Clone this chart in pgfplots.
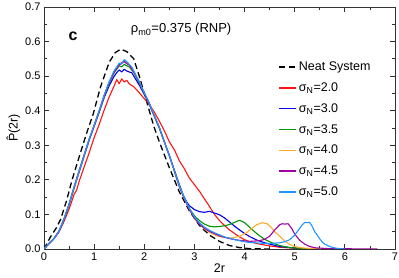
\documentclass[border=0pt]{standalone}
\usepackage{fontspec}
\setmainfont{Liberation Sans}
\usepackage{pgfplots}
\pgfplotsset{compat=1.18}
\definecolor{cred}{RGB}{255,20,20}
\definecolor{cblue}{RGB}{0,0,235}
\definecolor{cgreen}{RGB}{0,150,0}
\definecolor{corange}{RGB}{255,170,40}
\definecolor{cpurple}{RGB}{160,0,160}
\definecolor{clblue}{RGB}{30,150,255}
\definecolor{axgray}{RGB}{50,50,50}
\begin{document}
\begin{tikzpicture}
\begin{axis}[
  scale only axis, width=351pt, height=242pt,
  xmin=0, xmax=7, ymin=0, ymax=0.7,
  xtick={0,1,2,3,4,5,6,7}, ytick={0,0.1,0.2,0.3,0.4,0.5,0.6,0.7},
  minor x tick num=1, minor y tick num=1,
  tick pos=both, tick align=inside,
  major tick length=5pt, minor tick length=3pt,
  axis line style={axgray, line width=0.9pt},
  every tick/.style={axgray, line width=0.8pt},
  /pgf/number format/assume math mode=true,
  yticklabel style={/pgf/number format/fixed, /pgf/number format/fixed zerofill, /pgf/number format/precision=1, font=\fontsize{11}{12}\selectfont},
  xticklabel style={font=\fontsize{11}{12}\selectfont},
  xlabel={2r}, ylabel={\^{P}(2r)},
  xlabel style={font=\fontsize{12.5}{13}\selectfont, yshift=3pt},
  ylabel style={font=\fontsize{12.5}{13}\selectfont, yshift=-2pt},
  legend cell align=left,
  legend style={draw=none, fill=none, at={(axis description cs:0.668,0.782)}, anchor=north west,
    font=\fontsize{12.5}{14}\selectfont, row sep=6.6pt, inner sep=0pt},
  legend image code/.code={\draw[#1, line width=1.3pt] (0pt,0pt) -- (17pt,0pt);},
  every axis plot/.append style={line width=1.1pt, line join=round},
]
\addplot[black, dash pattern=on 6pt off 3.5pt, line width=1.3pt] coordinates {
(0,0) (0.13,0.035) (0.25,0.062) (0.33,0.085) (0.45,0.14) (0.56,0.2) (0.73,0.28) (0.85,0.335) (0.98,0.39) (1.13,0.47) (1.3,0.54) (1.42,0.568) (1.53,0.578) (1.65,0.571) (1.79,0.55) (1.9,0.5) (1.99,0.455) (2.1,0.4) (2.19,0.355) (2.3,0.31) (2.5,0.235) (2.7,0.165) (2.9,0.11) (3.1,0.068) (3.3,0.04) (3.5,0.022) (3.7,0.01) (3.9,0.004) (4.1,0.001) (4.5,0)
};
\addlegendentry{Neat System}
\addplot[cred] coordinates {
(0,0) (0.1,0.015) (0.2,0.03) (0.3,0.05) (0.4,0.08) (0.5,0.115) (0.6,0.158) (0.65,0.17) (0.7,0.195) (0.8,0.237) (0.9,0.278) (1.0,0.322) (1.1,0.36) (1.2,0.402) (1.3,0.44) (1.4,0.472) (1.45,0.49) (1.5,0.478) (1.55,0.492) (1.6,0.483) (1.65,0.488) (1.7,0.478) (1.8,0.468) (1.9,0.452) (2.0,0.435) (2.1,0.418) (2.2,0.396) (2.3,0.37) (2.4,0.342) (2.5,0.31) (2.6,0.287) (2.7,0.255) (2.8,0.232) (2.9,0.205) (3.0,0.186) (3.1,0.167) (3.2,0.145) (3.3,0.123) (3.4,0.1) (3.5,0.082) (3.6,0.068) (3.7,0.055) (3.8,0.045) (3.9,0.035) (4.0,0.027) (4.1,0.021) (4.3,0.014) (4.5,0.009) (4.7,0.005) (5.0,0.002) (5.3,0)
};
\addlegendentry{σ\textsubscript{N}=2.0}
\addplot[cblue] coordinates {
(0,0) (0.1,0.016) (0.2,0.03) (0.3,0.05) (0.4,0.085) (0.5,0.127) (0.6,0.176) (0.7,0.222) (0.8,0.268) (0.9,0.314) (1.0,0.355) (1.1,0.395) (1.2,0.438) (1.3,0.472) (1.4,0.5) (1.45,0.51) (1.5,0.518) (1.55,0.512) (1.6,0.52) (1.65,0.515) (1.7,0.512) (1.75,0.51) (1.8,0.498) (1.9,0.474) (2.0,0.447) (2.1,0.418) (2.2,0.384) (2.3,0.35) (2.4,0.31) (2.5,0.27) (2.6,0.228) (2.7,0.186) (2.77,0.158) (2.85,0.135) (2.9,0.125) (3.0,0.114) (3.1,0.108) (3.2,0.106) (3.3,0.109) (3.4,0.104) (3.5,0.099) (3.6,0.09) (3.7,0.078) (3.8,0.066) (3.9,0.055) (4.0,0.045) (4.1,0.036) (4.24,0.026) (4.4,0.018) (4.56,0.012) (4.7,0.007) (5.0,0.003) (5.3,0)
};
\addlegendentry{σ\textsubscript{N}=3.0}
\addplot[cgreen] coordinates {
(0,0) (0.1,0.016) (0.2,0.031) (0.3,0.052) (0.4,0.086) (0.5,0.128) (0.6,0.177) (0.7,0.224) (0.8,0.27) (0.9,0.316) (1.0,0.357) (1.1,0.398) (1.2,0.442) (1.3,0.48) (1.4,0.51) (1.5,0.53) (1.55,0.527) (1.6,0.534) (1.65,0.53) (1.7,0.527) (1.8,0.508) (1.9,0.48) (2.0,0.45) (2.1,0.42) (2.2,0.385) (2.3,0.35) (2.4,0.31) (2.5,0.27) (2.6,0.226) (2.7,0.183) (2.8,0.146) (2.9,0.117) (3.0,0.096) (3.1,0.082) (3.2,0.072) (3.3,0.066) (3.4,0.064) (3.5,0.065) (3.6,0.067) (3.7,0.071) (3.8,0.077) (3.9,0.083) (3.95,0.08) (4.0,0.076) (4.1,0.063) (4.2,0.05) (4.3,0.038) (4.4,0.028) (4.56,0.017) (4.7,0.01) (4.9,0.004) (5.2,0.001) (5.5,0)
};
\addlegendentry{σ\textsubscript{N}=3.5}
\addplot[corange] coordinates {
(0,0) (0.1,0.016) (0.2,0.03) (0.3,0.051) (0.4,0.087) (0.5,0.129) (0.6,0.178) (0.7,0.225) (0.8,0.271) (0.9,0.317) (1.0,0.358) (1.1,0.4) (1.2,0.444) (1.3,0.483) (1.4,0.514) (1.5,0.534) (1.55,0.54) (1.6,0.545) (1.65,0.538) (1.7,0.533) (1.8,0.51) (1.9,0.483) (2.0,0.452) (2.1,0.422) (2.2,0.386) (2.3,0.352) (2.4,0.31) (2.5,0.27) (2.6,0.225) (2.7,0.18) (2.8,0.145) (2.9,0.115) (3.0,0.09) (3.1,0.072) (3.2,0.058) (3.3,0.048) (3.44,0.038) (3.6,0.033) (3.77,0.032) (3.9,0.037) (4.04,0.047) (4.15,0.06) (4.24,0.07) (4.35,0.076) (4.45,0.073) (4.53,0.063) (4.6,0.05) (4.7,0.037) (4.8,0.023) (4.9,0.013) (5.0,0.007) (5.16,0.003) (5.4,0.001) (5.6,0)
};
\addlegendentry{σ\textsubscript{N}=4.0}
\addplot[cpurple] coordinates {
(0,0) (0.1,0.016) (0.2,0.03) (0.3,0.052) (0.4,0.087) (0.5,0.13) (0.6,0.179) (0.7,0.226) (0.8,0.272) (0.9,0.317) (1.0,0.357) (1.1,0.399) (1.2,0.444) (1.3,0.482) (1.4,0.512) (1.5,0.532) (1.55,0.538) (1.6,0.542) (1.65,0.536) (1.7,0.532) (1.8,0.51) (1.9,0.482) (2.0,0.451) (2.1,0.421) (2.2,0.385) (2.3,0.351) (2.4,0.31) (2.5,0.27) (2.6,0.225) (2.7,0.18) (2.8,0.145) (2.9,0.114) (3.0,0.089) (3.1,0.072) (3.2,0.06) (3.3,0.051) (3.5,0.038) (3.7,0.03) (3.9,0.025) (4.1,0.022) (4.3,0.024) (4.4,0.028) (4.5,0.037) (4.6,0.055) (4.7,0.07) (4.75,0.073) (4.8,0.072) (4.87,0.073) (4.95,0.057) (5.0,0.043) (5.1,0.025) (5.2,0.014) (5.3,0.007) (5.43,0.003) (5.7,0.001) (6.2,0.0005) (6.65,0)
};
\addlegendentry{σ\textsubscript{N}=4.5}
\addplot[clblue] coordinates {
(0,0) (0.05,0.008) (0.1,0.016) (0.15,0.022) (0.2,0.03) (0.3,0.052) (0.4,0.088) (0.5,0.13) (0.6,0.18) (0.7,0.226) (0.8,0.272) (0.9,0.318) (1.0,0.358) (1.1,0.4) (1.2,0.445) (1.3,0.484) (1.35,0.5) (1.4,0.516) (1.45,0.526) (1.5,0.538) (1.55,0.535) (1.6,0.548) (1.65,0.542) (1.7,0.534) (1.75,0.527) (1.8,0.512) (1.9,0.484) (2.0,0.452) (2.1,0.422) (2.2,0.386) (2.3,0.352) (2.4,0.31) (2.5,0.27) (2.6,0.226) (2.7,0.182) (2.8,0.147) (2.9,0.117) (3.0,0.093) (3.1,0.076) (3.2,0.063) (3.3,0.054) (3.4,0.047) (3.5,0.041) (3.6,0.035) (3.7,0.031) (3.8,0.027) (3.9,0.024) (4.0,0.021) (4.1,0.019) (4.2,0.018) (4.3,0.017) (4.4,0.016) (4.5,0.016) (4.6,0.017) (4.7,0.018) (4.8,0.021) (4.9,0.027) (5.0,0.04) (5.05,0.05) (5.1,0.06) (5.15,0.07) (5.2,0.077) (5.25,0.076) (5.3,0.077) (5.35,0.065) (5.4,0.05) (5.45,0.04) (5.5,0.029) (5.55,0.02) (5.6,0.014) (5.7,0.007) (5.8,0.003) (5.9,0.001) (6.0,0)
};
\addlegendentry{σ\textsubscript{N}=5.0}
\node[font=\fontsize{16}{18}\selectfont\bfseries] at (axis cs:0.58,0.615) {c};
\node[font=\fontsize{13}{15}\selectfont, anchor=west, inner sep=0pt] at (axis cs:1.73,0.635) {ρ\textsubscript{m0}=0.375 (RNP)};
\end{axis}
\pgfresetboundingbox
\path ([shift={(-44pt,-29pt)}]current axis.south west) rectangle ([shift={(4pt,7pt)}]current axis.north east);
\end{tikzpicture}
\end{document}
